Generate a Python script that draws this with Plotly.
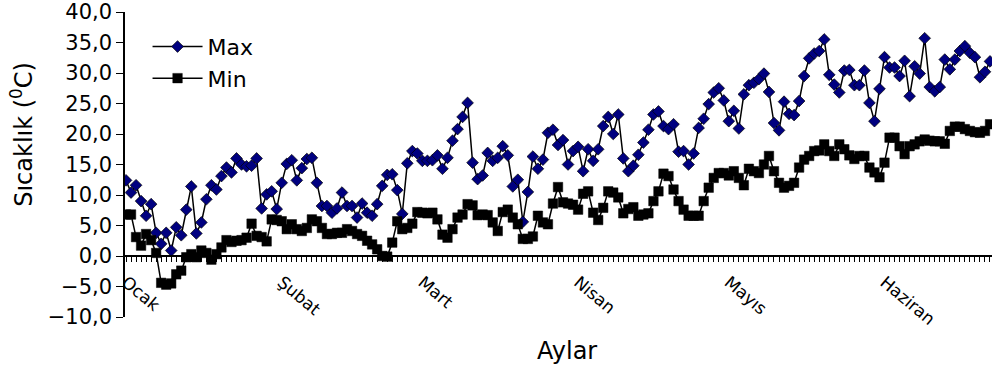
import plotly.graph_objects as go

days = list(range(173))

max_temp = [
    12.4, 10.4, 11.6, 9.0, 6.6, 8.5, 3.8, 2.0, 3.8, 0.9,
    4.7, 3.4, 7.6, 11.4, 3.7, 5.5, 9.3, 11.6, 10.9, 13.1,
    14.5, 13.7, 16.0, 15.0, 14.7, 14.8, 16.0, 7.8, 10.1, 10.6,
    7.7, 12.0, 15.1, 15.7, 12.4, 14.4, 15.9, 16.1, 12.0, 8.2,
    8.2, 7.1, 7.8, 10.4, 8.2, 8.2, 6.3, 8.6, 7.1, 6.6,
    8.5, 11.5, 13.3, 13.4, 10.8, 6.9, 15.2, 17.2, 16.8, 15.6,
    15.6, 15.7, 16.5, 14.3, 16.1, 18.9, 20.8, 22.8, 25.1, 15.3,
    12.6, 13.2, 16.9, 15.6, 16.1, 18.0, 16.5, 11.4, 12.5, 5.6,
    10.5, 16.3, 14.3, 15.8, 20.2, 20.7, 18.2, 19.0, 15.0, 17.2,
    17.9, 13.9, 17.5, 15.6, 17.5, 21.3, 22.8, 20.0, 23.2, 16.0,
    13.9, 14.8, 16.6, 18.6, 20.7, 23.2, 23.7, 21.3, 20.8, 21.6,
    17.1, 17.2, 15.0, 16.8, 21.0, 22.5, 24.9, 26.8, 27.5, 25.5,
    22.1, 23.8, 20.9, 26.5, 28.0, 28.4, 29.0, 29.9, 26.9, 21.8,
    20.6, 25.3, 23.3, 23.1, 25.4, 29.5, 32.4, 33.2, 33.6, 35.5,
    29.7, 28.1, 26.8, 30.4, 30.5, 28.0, 28.0, 30.4, 25.1, 22.1,
    27.4, 32.6, 30.9, 30.9, 29.5, 32.0, 26.2, 31.1, 29.9, 35.7,
    27.7, 27.0, 27.7, 32.2, 30.6, 32.2, 33.6, 34.4, 33.3, 32.6,
    29.3, 30.2, 31.9,
]

min_temp = [
    6.8, 6.8, 3.1, 1.7, 3.6, 2.6, 0.5, -4.4, -4.7, -4.5,
    -3.0, -2.4, -0.2, 0.3, -0.2, 0.9, 0.5, -0.6, 0.3, 1.4,
    2.6, 2.3, 2.5, 2.6, 3.0, 5.3, 3.3, 3.1, 2.4, 6.0,
    5.9, 5.7, 4.4, 5.2, 4.4, 4.1, 4.6, 6.0, 5.7, 4.6,
    3.6, 3.6, 3.8, 3.8, 4.4, 4.1, 3.6, 3.3, 2.5, 1.9,
    1.1, 0.0, -0.1, 2.2, 5.7, 4.4, 4.6, 5.3, 7.2, 7.1,
    7.0, 7.1, 6.0, 3.5, 3.0, 4.4, 6.3, 6.8, 8.5, 8.3,
    6.7, 6.8, 6.7, 5.5, 4.1, 7.2, 7.6, 6.3, 5.2, 2.8,
    2.8, 3.2, 6.6, 5.5, 5.2, 8.6, 11.3, 8.8, 8.6, 8.4,
    7.6, 10.2, 10.6, 7.1, 5.9, 7.9, 10.6, 10.4, 9.6, 7.0,
    7.7, 8.0, 6.6, 6.8, 7.0, 9.0, 10.6, 13.5, 13.1, 10.9,
    9.0, 7.6, 6.6, 6.6, 6.6, 9.0, 11.2, 12.8, 13.6, 13.6,
    13.2, 13.9, 12.8, 11.6, 14.3, 13.9, 13.6, 15.0, 16.4, 13.9,
    12.0, 11.2, 11.5, 12.0, 14.5, 15.8, 16.4, 17.2, 17.3, 18.3,
    17.2, 16.4, 18.3, 17.5, 16.5, 15.9, 16.4, 16.4, 14.5, 13.7,
    12.9, 15.3, 19.4, 19.4, 18.0, 16.7, 18.0, 18.3, 18.8, 19.1,
    18.9, 18.8, 18.8, 18.4, 20.5, 21.2, 21.2, 20.8, 20.5, 20.3,
    20.2, 20.5, 21.6,
]

month_starts = [0, 31, 59, 90, 120, 151]
month_labels = ["Ocak", "Şubat", "Mart", "Nisan", "Mayıs", "Haziran"]
y_ticks = [-10, -5, 0, 5, 10, 15, 20, 25, 30, 35, 40]

FONT = "DejaVu Sans"

fig = go.Figure()
fig.add_trace(go.Scatter(
    x=days, y=max_temp, name="Max", mode="lines+markers",
    line=dict(color="black", width=1.5),
    marker=dict(symbol="diamond", size=9, color="#000080",
                line=dict(color="black", width=0.7)),
))
fig.add_trace(go.Scatter(
    x=days, y=min_temp, name="Min", mode="lines+markers",
    line=dict(color="black", width=1.5),
    marker=dict(symbol="square", size=9.5, color="black",
                line=dict(color="black", width=0.5)),
))

fig.update_layout(
    width=992, height=369,
    margin=dict(l=125, r=0, t=12, b=52, autoexpand=False),
    paper_bgcolor="white", plot_bgcolor="white",
    separators=",.",
    font=dict(family=FONT, color="black"),
    showlegend=True,
    legend=dict(x=0.026, y=0.955, xanchor="left", yanchor="top",
                bgcolor="rgba(0,0,0,0)", font=dict(size=22, family=FONT),
                itemwidth=50, tracegroupgap=0),
    xaxis=dict(
        range=[-0.2, 172.4], anchor="free", position=0.2,
        automargin=False,
        showline=True, linecolor="black", linewidth=1.5,
        showgrid=False, zeroline=False,
        tickmode="array", tickvals=month_starts, ticktext=month_labels,
        ticks="outside", ticklen=5, tickcolor="black", tickwidth=1,
        tickangle=40, tickfont=dict(size=17, family=FONT),
        ticklabelstandoff=4,
        minor=dict(dtick=1, tick0=0, ticks="outside", ticklen=5,
                   tickcolor="black", tickwidth=1, showgrid=False),
    ),
    yaxis=dict(
        range=[-10, 40], tickmode="array", tickvals=y_ticks,
        tickformat=".1f", automargin=False,
        showline=True, linecolor="black", linewidth=1.5,
        showgrid=False, zeroline=False,
        ticks="outside", ticklen=7, tickcolor="black", tickwidth=1,
        tickfont=dict(size=21, family=FONT),
    ),
    annotations=[
        dict(text="Sıcaklık (<sup>0</sup>C)", xref="paper", yref="paper",
             x=-0.119, y=0.6, xanchor="center", yanchor="middle",
             textangle=-90, showarrow=False, font=dict(size=24, family=FONT)),
        dict(text="Aylar", xref="paper", yref="paper",
             x=0.51, y=-0.11, xanchor="center", yanchor="middle",
             showarrow=False, font=dict(size=24, family=FONT)),
    ],
)

fig.write_html(
    "out.html",
    config={"displayModeBar": False},
    post_script="document.documentElement.style.margin='0';"
                "document.body.style.margin='0';"
                "document.body.style.overflow='hidden';",
)
